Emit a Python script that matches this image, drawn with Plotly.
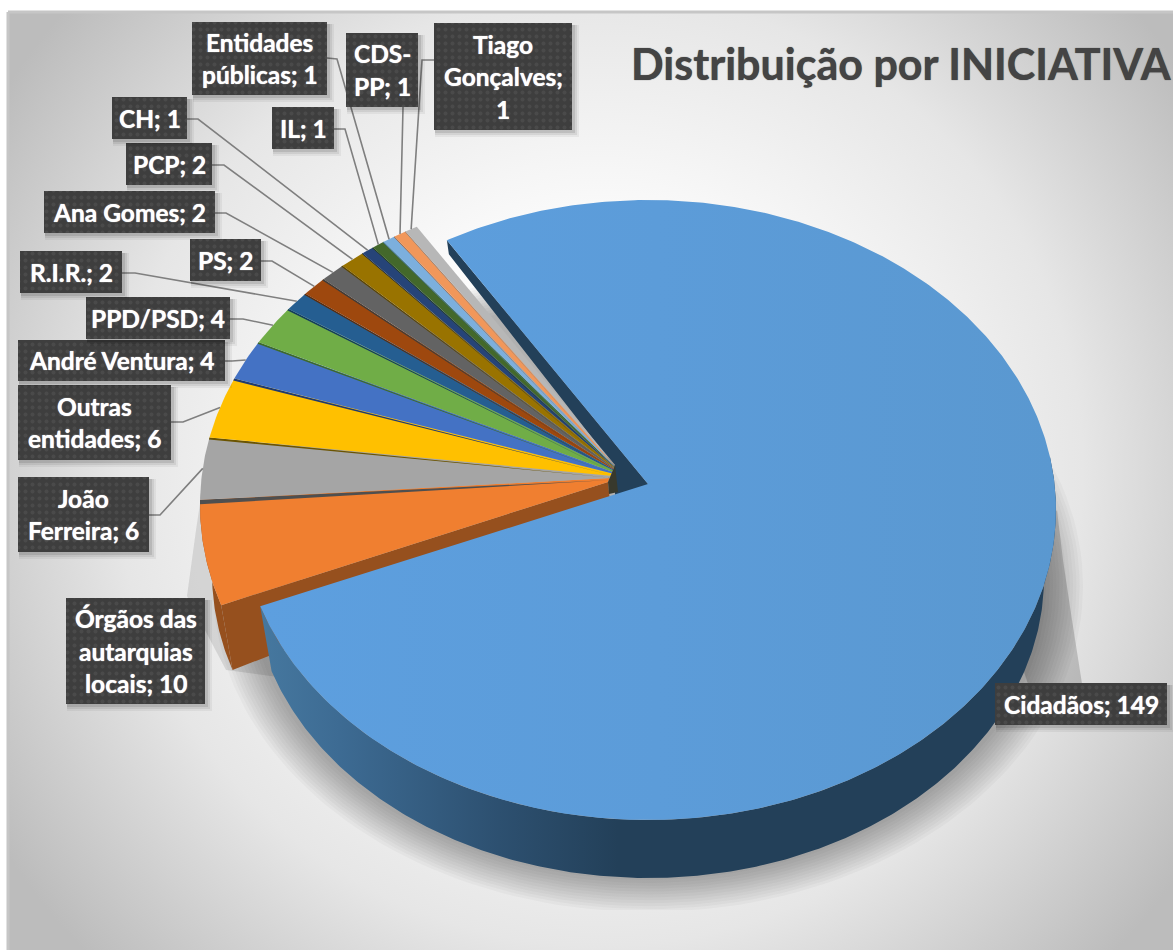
import numpy as np
import plotly.graph_objects as go

# ---- data ----
categories = ["Cidadãos", "Órgãos das autarquias locais", "João Ferreira", "Outras entidades",
              "André Ventura", "PPD/PSD", "R.I.R.", "PS", "Ana Gomes", "PCP", "CH", "IL",
              "Entidades públicas", "CDS-PP", "Tiago Gonçalves"]
values = [149, 10, 6, 6, 4, 4, 2, 2, 2, 2, 1, 1, 1, 1, 1]
colors = ["#5b9bd5", "#f07f30", "#a5a5a5", "#ffc000", "#4472c4", "#70ad47", "#255e91", "#9e480e",
          "#636363", "#997300", "#264478", "#43682b", "#7cafdd", "#f1975a", "#b7b7b7"]
wall_colors = ["#234059", "#96501e", "#4f4f4f", "#6b5400", "#1f3a70", "#3f6a28", "#123a5e", "#5e2b08",
               "#3c3c3c", "#5c4500", "#16294a", "#28401a", "#4d7fae", "#a85f30", "#808080"]
gap_deg = [0, 0, .8, .4, .4, .3, .3, .25, .25, .25, .15, .15, .15, .12, .12]
label_lines = [["Cidadãos; 149"], ["Órgãos das", "autarquias", "locais; 10"], ["João", "Ferreira; 6"],
               ["Outras", "entidades; 6"], ["André Ventura; 4"], ["PPD/PSD; 4"], ["R.I.R.; 2"], ["PS; 2"],
               ["Ana Gomes; 2"], ["PCP; 2"], ["CH; 1"], ["IL; 1"], ["Entidades", "públicas; 1"],
               ["CDS-", "PP; 1"], ["Tiago", "Gonçalves;", "1"]]
title_text = "Distribuição por INICIATIVA"

# ---- layout geometry (label boxes and leader elbows, page pixels) ----
boxes = [(995, 683, 1167, 725), (66, 598, 205, 704), (18, 477, 149, 552), (18, 385, 171, 460),
         (18, 340, 225, 381), (86, 297, 230, 339), (20, 251, 122, 293), (190, 239, 261, 281),
         (44, 191, 215, 233), (126, 143, 212, 185), (112, 97, 187, 139), (272, 107, 334, 149),
         (192, 22, 327, 95), (346, 33, 418, 107), (434, 23, 572, 130)]
leaders = [None, None, [(149, 515), (160, 515)], [(171, 422), (183, 422)], [(225, 361), (232, 361)],
           [(230, 319), (243, 319)], [(122, 273), (135, 273)], [(261, 261), (272, 261)],
           [(215, 213), (226, 213)], [(212, 165), (224, 165)], [(187, 119), (198, 119)],
           [(334, 129), (345, 129)], [(327, 58), (337, 59)], [(403, 107), (403, 108)],
           [(434, 60), (422, 60)]]
START = 328.0
BLUE = dict(cx=648, cy=510, rx=408, ry=310, b=0.084)
BLUE_BOT = dict(cx=648, cy=578, rx=396, ry=300, b=0.084)
REST = dict(cx=608, cy=505, rx=408, ry=315, b=0.076)
REST_BOT = dict(cx=608, cy=573, rx=396, ry=305, b=0.076)
FAN_STRETCH = 1.024  # perspective widening of the small slices' fan
APEX_FIRST = (608, 482)  # the small slices stack up a short vertical edge
APEX_LAST = (615, 465)


def rim(theta, cx, cy, rx, ry, b):
    t = np.radians(theta)
    X, Y = np.sin(t), np.cos(t)
    w = 1 + b * Y
    return cx + rx * X * np.sqrt(1 - b * b) / w, cy - ry * (Y + b) / w


def apex(g):
    return g["cx"], g["cy"] - g["ry"] * g["b"]


def arc(a, b, g, n=None):
    n = n or max(3, int(abs(b - a) * 2) + 2)
    return rim(np.linspace(a, b, n), **g)


fig = go.Figure()


def poly(x, y, color=None, **kw):
    fig.add_trace(go.Scatter(x=list(x), y=list(y), mode="lines", line=dict(width=0), fill="toself",
                             fillcolor=color, hoverinfo="skip", showlegend=False, **kw))


# background
poly([-110, 1310, 1310, -110], [-230, -230, 1170, 1170],
     fillgradient=dict(type="radial", colorscale=[[0, "#ffffff"], [.35, "#fbfbfb"], [.68, "#e6e6e6"], [1, "#bcbcbc"]]))

# soft shadow under the pie
for k in np.linspace(34, 2, 12):
    t = np.radians(np.linspace(0, 360, 181))
    xs = 648 + (396 + k * 1.15) * np.cos(t)
    ys = np.minimum(586 + (292 + k) * np.sin(t), 910)
    poly(xs, ys, "rgba(0,0,0,0.027)")
poly([1057, 1063, 1072, 1083, 1040, 1000], [510, 560, 620, 690, 720, 600], "rgba(0,0,0,0.17)")
poly([205, 196, 187, 226, 300, 300], [470, 530, 596, 670, 680, 500], "rgba(0,0,0,0.10)")

# cumulative angles
frac = np.array(values) / sum(values) * 360
edges = START + np.concatenate([[0], np.cumsum(frac)])
fan0, fan1 = edges[1], edges[-1]


def fan(theta):
    return fan0 + (theta - fan0) * FAN_STRETCH


def fan_apex(theta):
    u = (theta - fan0) / (fan1 - fan0)
    return APEX_FIRST[0] + u * (APEX_LAST[0] - APEX_FIRST[0]), APEX_FIRST[1] + u * (APEX_LAST[1] - APEX_FIRST[1])


# back wall of the exploded slice (its start edge)
ax, ay = apex(BLUE)
x0, y0 = rim(START, **BLUE)
poly([x0, x0 + 2, APEX_LAST[0], APEX_LAST[0], ax, ax],
     [y0, y0 + 14, APEX_LAST[1] + 2, ay + 30, ay + 30, ay], wall_colors[0])

# wall of first small slice
th0, th1 = fan(edges[1]), fan(edges[2])
rx_, ry_ = APEX_FIRST
tx, ty = arc(th0, th1, REST)
bx, by = arc(th0, th1, REST_BOT)
poly(list(tx) + list(bx[::-1]), list(ty) + list(by[::-1]), wall_colors[1])
poly([rx_, tx[0], bx[0], rx_ + 4], [ry_, ty[0], by[0], ry_ + 40], wall_colors[1])

# small slices, clockwise: each covers the previous one's end with its dark start edge
for i in range(1, len(values)):
    a0, a1 = edges[i], edges[i + 1]
    p0, p1 = fan_apex(a0), fan_apex(a1)
    if gap_deg[i]:
        gx, gy = arc(fan(a0) - gap_deg[i], fan(a0), REST, 3)
        poly([p0[0]] + list(gx), [p0[1] + 2] + list(gy), wall_colors[i])
    x, y = arc(fan(a0), fan(a1), REST)
    poly([p0[0]] + list(x) + [p1[0]], [p0[1]] + list(y) + [p1[1]], colors[i], name=categories[i])

# inner edge where the small slices meet
poly([APEX_FIRST[0], APEX_LAST[0], APEX_LAST[0] + 3, APEX_FIRST[0] + 1],
     [APEX_FIRST[1], APEX_LAST[1], APEX_FIRST[1] + 10, APEX_FIRST[1] + 12], "#38392c")

# outer wall of the big slice
R0 = 445
top_x, top_y = arc(R0, edges[1], BLUE)
bot_x, bot_y = arc(R0, edges[1], BLUE_BOT)
poly(list(top_x) + list(bot_x[::-1]), list(top_y) + list(bot_y[::-1]),
     fillgradient=dict(type="horizontal",
                       colorscale=[[0, "#46789f"], [.1, "#3d6b93"], [.3, "#2d5070"], [.45, "#234059"], [1, "#234059"]]))

# top face of the big slice
x, y = arc(edges[0], edges[1], BLUE)
poly([ax] + list(x), [ay] + list(y), name=categories[0],
     fillgradient=dict(type="horizontal",
                       colorscale=[[0, "#5d9fdf"], [.5, "#5c9cd9"], [1, "#5a98d0"]]))

# leader lines
for i, ld in enumerate(leaders):
    if ld is None:
        continue
    mid = fan((edges[i] + edges[i + 1]) / 2)
    px, py = rim(mid, **REST)
    fig.add_trace(go.Scatter(x=[p[0] for p in ld] + [px], y=[p[1] for p in ld] + [py], mode="lines",
                             line=dict(color="#7f7f7f", width=1.6), hoverinfo="skip", showlegend=False))

# label boxes
annotations = []
for i, (x0, y0, x1, y1) in enumerate(boxes):
    for d, op in ((7, .05), (5, .07), (3, .1)):
        poly([x0 + 1, x1 + d, x1 + d, x0 + 1], [y0 + 2, y0 + 2, y1 + d, y1 + d], f"rgba(0,0,0,{op})")
    poly([x0, x1, x1, x0], [y0, y0, y1, y1],
         fillpattern=dict(shape=".", bgcolor="#3e3e3e", fgcolor="#555555", size=7, solidity=.25))
    lines = label_lines[i]
    yc = (y0 + y1) / 2
    for j, s in enumerate(lines):
        annotations.append(dict(x=(x0 + x1) / 2, y=yc + (j - (len(lines) - 1) / 2) * 32.5, text=s, xref="x", yref="y",
                                showarrow=False, xanchor="center", yanchor="middle",
                                font=dict(family="Lato", size=24.5, color="#ffffff", weight="bold",
                                          shadow="0 0 1px #ffffff")))

annotations.append(dict(x=629, y=63, text=title_text, xref="x", yref="y", showarrow=False, xanchor="left",
                        yanchor="middle", font=dict(family="Lato", size=43, color="#444444", weight="bold",
                                                    shadow="0 0 1px #444444")))

fig.update_layout(
    width=1173, height=950, autosize=False, margin=dict(l=8, r=0, t=12, b=0),
    paper_bgcolor="#ffffff", plot_bgcolor="#ffffff", showlegend=False,
    xaxis=dict(range=[8, 1173], visible=False, fixedrange=True),
    yaxis=dict(range=[950, 12], visible=False, fixedrange=True),
    annotations=annotations,
    shapes=[dict(type="line", xref="paper", yref="paper", x0=0, x1=0, y0=0, y1=1,
                 line=dict(color="#c6c6c6", width=3)),
            dict(type="line", xref="paper", yref="paper", x0=0, x1=1, y0=1, y1=1,
                 line=dict(color="#c6c6c6", width=3))],
)
fig.write_html("out.html", config=dict(displayModeBar=False), default_width="1173px", default_height="950px",
               post_script="document.documentElement.style.overflow='hidden';document.body.style.margin='0';")
